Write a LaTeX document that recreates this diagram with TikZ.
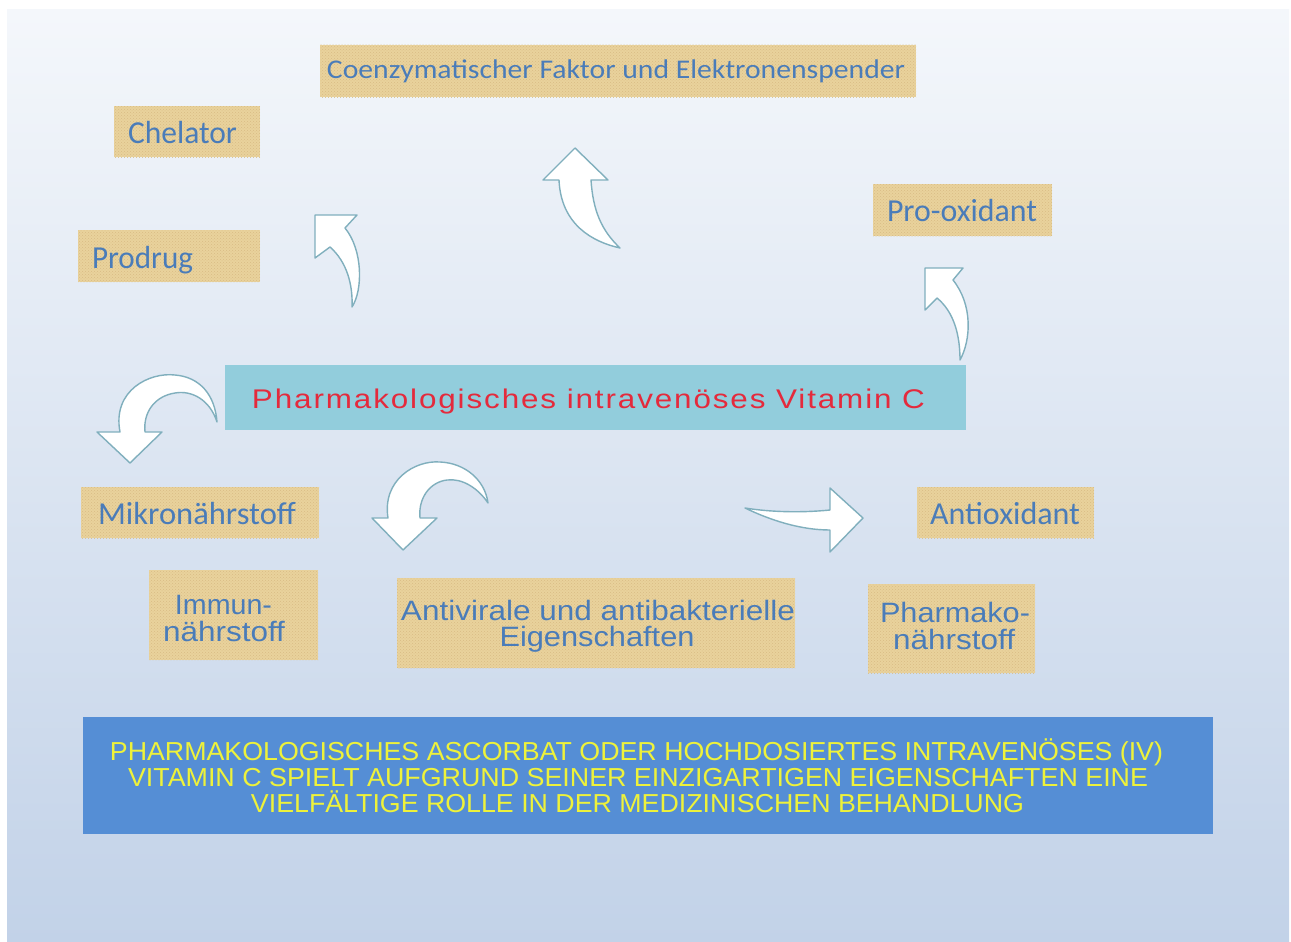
\documentclass[tikz,border=0pt]{standalone}
\usepackage{fontspec}
\setmainfont{Liberation Sans}
\newfontfamily\carl{Carlito}
\newfontfamily\libsp[LetterSpace=6]{Liberation Sans}
\usetikzlibrary{patterns}
\definecolor{bgtop}{HTML}{F4F7FB}
\definecolor{bgbot}{HTML}{C2D2E8}
\definecolor{papy}{HTML}{E9D29C}
\definecolor{papydk}{HTML}{D8BC84}
\definecolor{lblue}{HTML}{4A7CB9}
\definecolor{aqua}{HTML}{92CDDC}
\definecolor{vred}{HTML}{E42A3C}
\definecolor{botblue}{HTML}{558ED5}
\definecolor{yel}{HTML}{EEF23A}
\definecolor{arrline}{HTML}{80AFBD}
\newcommand\fw[2]{\resizebox{#1pt}{\height}{#2}}
\begin{document}
\begin{tikzpicture}[x=1pt,y=-1pt,
  papbox/.style={draw=none, fill=papy, postaction={pattern=crosshatch dots, pattern color=papydk}, inner sep=0pt, outer sep=0pt},
  lbl/.style={anchor=base, inner sep=0pt, text=lblue, font=\carl\fontsize{32}{32}\selectfont},
  lbltwo/.style={anchor=base, inner sep=0pt, text=lblue, font=\fontsize{28}{28}\selectfont},
  botline/.style={anchor=base, inner sep=0pt, text=yel, font=\fontsize{26}{26}\selectfont},
  bigarrow/.style={fill=white, draw=arrline, line width=1.4pt, line join=round},
]
\useasboundingbox (0,0) rectangle (1291,942);
\fill[white] (0,0) rectangle (1291,942);
\shade[top color=bgtop, bottom color=bgbot] (7,10) rectangle (1289,942);

% boxes
\node[papbox, minimum width=596pt, minimum height=52pt] (coenzbox) at (618,71) {};
\node[papbox, minimum width=146pt, minimum height=51pt] (chelbox) at (187,131.5) {};
\node[papbox, minimum width=182pt, minimum height=52pt] (prodbox) at (169,256) {};
\node[papbox, minimum width=179pt, minimum height=52pt] (proxbox) at (962.5,210) {};
\node[papbox, minimum width=238pt, minimum height=51pt] (mikrobox) at (200,512.5) {};
\node[papbox, minimum width=177pt, minimum height=51pt] (antibox) at (1005.5,512.5) {};
\node[papbox, minimum width=169pt, minimum height=90pt] (immunbox) at (233.5,615) {};
\node[papbox, minimum width=398pt, minimum height=90pt] (virbox) at (596,623) {};
\node[papbox, minimum width=167pt, minimum height=89pt] (pharmbox) at (951.5,628.5) {};
\node[fill=aqua, inner sep=0pt, minimum width=741pt, minimum height=65pt] (centerbox) at (595.5,397.5) {};
\node[fill=botblue, inner sep=0pt, minimum width=1130pt, minimum height=117pt] (botbox) at (648,775.5) {};

% labels
\node[lbl, font=\carl\fontsize{27}{27}\selectfont] (coenz) at (616,78) {\fw{578}{Coenzymatischer Faktor und Elektronenspender}};
\node[lbl] (chel) at (182.5,143) {\fw{109}{Chelator}};
\node[lbl] (prod) at (142.5,268) {\fw{101}{Prodrug}};
\node[lbl] (prox) at (962,221) {\fw{150}{Pro-oxidant}};
\node[lbl] (mikro) at (197,524) {\fw{198}{Mikronährstoff}};
\node[lbl] (anti) at (1005,524) {\fw{150}{Antioxidant}};
\node[lbltwo] (immuna) at (223.5,614) {\fw{97}{Immun-}};
\node[lbltwo] (immunb) at (224,641) {\fw{122}{nährstoff}};
\node[lbltwo] (vira) at (598,620) {\fw{394}{Antivirale und antibakterielle}};
\node[lbltwo] (virb) at (597,646) {\fw{195}{Eigenschaften}};
\node[lbltwo] (pharma) at (955,622) {\fw{150}{Pharmako-}};
\node[lbltwo] (pharmb) at (954,649) {\fw{122}{nährstoff}};
\node[anchor=base, inner sep=0pt, text=vred, font=\libsp\fontsize{27}{27}\selectfont] (center) at (588.5,408) {\fw{673}{Pharmakologisches intravenöses Vitamin C}};
\node[botline] (bota) at (636.5,760) {\fw{1053}{PHARMAKOLOGISCHES ASCORBAT ODER HOCHDOSIERTES INTRAVENÖSES (IV)}};
\node[botline] (botb) at (638,786) {\fw{1020}{VITAMIN C SPIELT AUFGRUND SEINER EINZIGARTIGEN EIGENSCHAFTEN EINE}};
\node[botline] (botc) at (637.5,812) {\fw{773}{VIELFÄLTIGE ROLLE IN DER MEDIZINISCHEN BEHANDLUNG}};

% block arrows
\draw[bigarrow] (575,148) -- (608,180) -- (591,180) .. controls (593,210) and (601,230) .. (620,248) .. controls (593,242) and (561,225) .. (559,180) -- (543,180) -- cycle;
\draw[bigarrow] (315,215) -- (357,215) -- (345,228) .. controls (363,250) and (363,290) .. (352,307) .. controls (353,285) and (347,262) .. (330,247) -- (315,258) -- cycle;
\draw[bigarrow] (925,268) -- (963,268) -- (953,280) .. controls (973,305) and (971,340) .. (960,360) .. controls (960,335) and (954,312) .. (937,298) -- (925,310) -- cycle;
\draw[bigarrow] (130,463) -- (97,432) -- (120,432) .. controls (112,390) and (150,372) .. (175,375) .. controls (200,377) and (215,395) .. (217,422) .. controls (210,400) and (192,390) .. (175,393) .. controls (155,396) and (143,412) .. (145,432) -- (162,432) -- cycle;
\draw[bigarrow] (403,550) -- (372,518) -- (388,518) .. controls (382,480) and (415,460) .. (440,462) .. controls (465,463) and (485,480) .. (488,503) .. controls (478,488) and (462,478) .. (447,480) .. controls (430,482) and (418,498) .. (420,518) -- (437,518) -- cycle;
\draw[bigarrow] (863,518) -- (830,488) -- (830,510) .. controls (800,513) and (770,512) .. (745,508) .. controls (770,520) and (800,530) .. (830,530) -- (830,552) -- cycle;
\end{tikzpicture}
\end{document}
